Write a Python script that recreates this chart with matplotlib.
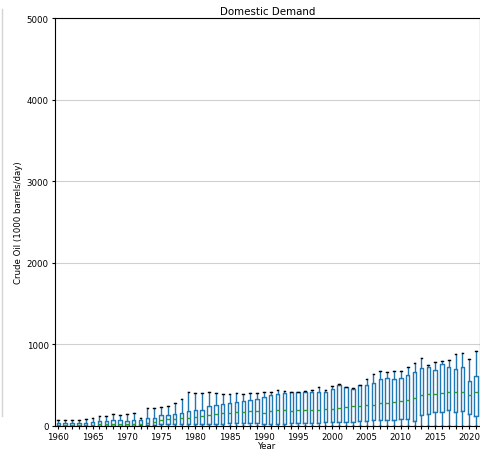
import matplotlib
matplotlib.use("Agg")
import matplotlib.pyplot as plt
from matplotlib.lines import Line2D
import numpy as np

# Domestic demand per year, box-plot summary (1000 barrels/day)
years = list(range(1960, 2022))

whisk_hi = [73, 73, 73, 73, 86, 94, 126, 126, 151, 139,
            151, 163, 102, 224, 224, 230, 245, 277, 328, 420,
            400, 410, 420, 400, 396, 396, 400, 396, 404, 404,
            412, 412, 441, 432, 420, 420, 424, 445, 481, 437,
            494, 510, 481, 465, 506, 571, 636, 673, 657, 673,
            673, 718, 775, 836, 747, 779, 800, 808, 881, 898,
            816, 918]
q3 = [33, 33, 33, 35, 41, 45, 57, 57, 69, 69,
      57, 69, 73, 94, 102, 130, 140, 145, 160, 186,
      194, 202, 243, 255, 267, 286, 298, 304, 320, 335,
      355, 380, 388, 400, 412, 412, 412, 412, 412, 412,
      457, 502, 481, 457, 498, 502, 530, 571, 592, 571,
      592, 628, 665, 706, 726, 685, 759, 718, 694, 718,
      551, 616]
med = [14, 14, 14, 15, 16, 18, 20, 22, 24, 25,
       22, 26, 30, 41, 55, 78, 82, 90, 94, 102,
       106, 118, 135, 147, 155, 163, 167, 167, 184, 188,
       163, 190, 192, 192, 190, 192, 194, 196, 200, 204,
       208, 220, 237, 243, 249, 253, 257, 277, 288, 298,
       305, 318, 345, 379, 388, 396, 405, 420, 418, 416,
       379, 412]
q1 = [2, 2, 2, 2, 3, 3, 4, 4, 5, 5,
      5, 6, 8, 12, 16, 24, 24, 24, 24, 24,
      24, 26, 28, 30, 30, 33, 33, 33, 33, 33,
      24, 28, 30, 30, 32, 33, 36, 40, 42, 44,
      45, 48, 50, 53, 58, 65, 68, 70, 73, 78,
      82, 90, 65, 135, 147, 175, 175, 196, 175, 185,
      147, 126]
whisk_lo = [0] * len(years)

stats = []
for i, yr in enumerate(years):
    stats.append({"label": str(yr), "whislo": whisk_lo[i], "q1": q1[i],
                  "med": med[i], "q3": q3[i], "whishi": whisk_hi[i], "fliers": []})

fig = plt.figure(figsize=(4.81, 4.52), dpi=100)
ax = fig.add_axes([54.9 / 481, 25 / 452, 424.7 / 481, 407.7 / 452])

blue = "#1f77b4"
ax.bxp(stats, positions=years, widths=0.5, showfliers=False,
       boxprops=dict(color=blue, linewidth=1),
       whiskerprops=dict(color=blue, linewidth=1),
       capprops=dict(color="black", linewidth=1),
       medianprops=dict(color="#2ca02c", linewidth=1))

ax.set_xlim(1959.5, 2021.5)
ax.set_ylim(0, 5000)
ax.set_xticks(years)
ax.set_xticklabels([str(y) if y % 5 == 0 else "" for y in years])
ax.set_yticks([0, 1000, 2000, 3000, 4000, 5000])
ax.tick_params(labelsize=6.2, length=2.5, pad=2)
ax.yaxis.grid(True, color="#d0d0d0", linewidth=0.8)
ax.set_axisbelow(True)

ax.set_title("Domestic Demand", fontsize=7.4, pad=3)
ax.set_xlabel("Year", fontsize=6.2)
ax.set_ylabel("Crude Oil (1000 barrels/day)", fontsize=6.2)
ax.xaxis.set_label_coords(0.5, -0.037)
ax.yaxis.set_label_coords(-0.075, 0.5)

# faint notebook border at the far left
fig.add_artist(Line2D([1.5 / 481, 1.5 / 481], [1 - 10 / 452, 1 - 417 / 452],
                      color="#d4d4d4", linewidth=1))

fig.savefig("out.png", dpi=100)
